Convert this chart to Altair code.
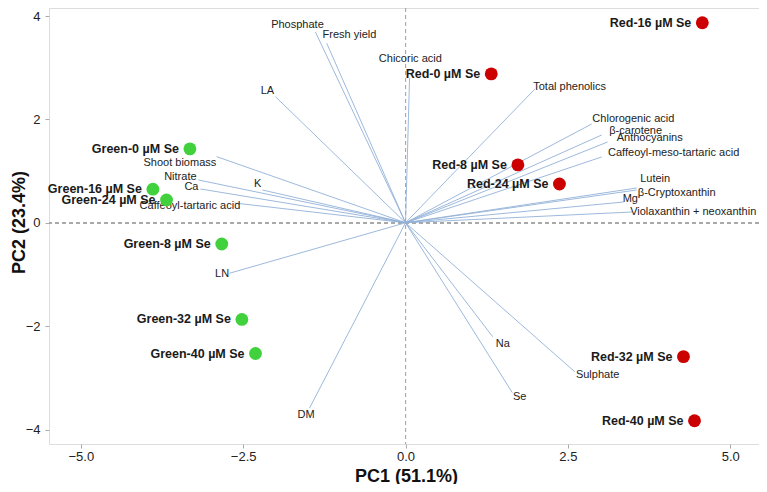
import altair as alt
import pandas as pd

# ---- Scores (observations) ----
obs_names = ["Green-0 µM Se", "Green-8 µM Se", "Green-16 µM Se", "Green-24 µM Se",
             "Green-32 µM Se", "Green-40 µM Se",
             "Red-0 µM Se", "Red-8 µM Se", "Red-16 µM Se", "Red-24 µM Se",
             "Red-32 µM Se", "Red-40 µM Se"]
obs_pc1 = [-3.32, -2.83, -3.89, -3.68, -2.52, -2.31,
           1.32, 1.73, 4.57, 2.37, 4.28, 4.45]
obs_pc2 = [1.43, -0.41, 0.65, 0.44, -1.87, -2.53,
           2.88, 1.12, 3.87, 0.75, -2.59, -3.83]
obs_group = ["Green"] * 6 + ["Red"] * 6

# ---- Loadings (variables) ----
var_names = ["Phosphate", "Fresh yield", "Chicoric acid", "LA", "Total phenolics",
             "Chlorogenic acid", "β-carotene", "Anthocyanins",
             "Caffeoyl-meso-tartaric acid", "Lutein", "β-Cryptoxanthin", "Mg",
             "Violaxanthin + neoxanthin", "Shoot biomass", "Nitrate", "Ca", "K",
             "Caffeoyl-tartaric acid", "LN", "DM", "Na", "Sulphate", "Se"]
var_pc1 = [-1.387, -1.213, 0.062, -2.003, 1.988,
           2.866, 3.020, 3.112,
           3.020, 3.559, 3.559, 3.359,
           3.498, -2.908, -3.190, -3.159, -2.203,
           -2.635, -2.712, -1.479, 1.341, 2.604, 1.644]
var_pc2 = [3.690, 3.472, 2.800, 2.439, 2.582,
           1.911, 1.698, 1.563,
           1.273, 0.673, 0.634, 0.402,
           0.209, 1.279, 0.828, 0.654, 0.634,
           0.383, -0.977, -3.588, -2.203, -2.880, -3.286]
# label anchor positions (data units)
lab_pc1 = [-1.664, -0.863, 0.074, -2.126, 2.527,
           3.508, 3.544, 3.760,
           4.129, 3.844, 4.176, 3.462,
           4.43, -3.475, -3.467, -3.297, -2.276,
           -3.320, -2.824, -1.530, 1.499, 2.958, 1.757]
lab_pc2 = [3.826, 3.632, 3.162, 2.555, 2.632,
           2.008, 1.781, 1.646,
           1.344, 0.847, 0.582, 0.455,
           0.215, 1.162, 0.892, 0.687, 0.750,
           0.331, -0.990, -3.718, -2.350, -2.944, -3.375]

x_ticks = [-5.0, -2.5, 0.0, 2.5, 5.0]
y_ticks = [-4, -2, 0, 2, 4]

obs = pd.DataFrame({"name": obs_names, "PC1": obs_pc1, "PC2": obs_pc2, "group": obs_group})
var = pd.DataFrame({"name": var_names, "PC1": var_pc1, "PC2": var_pc2,
                    "lx": lab_pc1, "ly": lab_pc2})

FONT = "Liberation Sans"
xdom = [-5.49, 5.443]
ydom = [-4.28, 4.155]

xs = alt.Scale(domain=xdom, nice=False, zero=False)
ys = alt.Scale(domain=ydom, nice=False, zero=False)

x_axis = alt.Axis(values=x_ticks, format=".1f", grid=False, domain=False,
                  tickSize=4, tickColor="#aaaaaa", labelPadding=2,
                  labelFontSize=13, labelColor="#222222", labelFont=FONT,
                  title="PC1 (51.1%)", titleFont=FONT, titleFontSize=18,
                  titleFontWeight="bold", titleColor="#111111",
                  titleX=357, titleY=32, titleBaseline="middle")
y_axis = alt.Axis(values=y_ticks, format="d", grid=False, domain=False,
                  tickSize=4, tickColor="#aaaaaa", labelPadding=5,
                  labelFontSize=13, labelColor="#222222", labelFont=FONT,
                  title="PC2 (23.4%)", titleFont=FONT, titleFontSize=18,
                  titleFontWeight="bold", titleColor="#111111",
                  titleX=-30, titleY=214, titleAngle=270,
                  titleBaseline="middle", titleAlign="center")

base_obs = alt.Chart(obs)
base_var = alt.Chart(var)

zero_v = alt.Chart(obs).mark_rule(color="#aaaaaa", strokeDash=[4, 3], strokeWidth=1).encode(
    x=alt.datum(0, scale=xs, axis=x_axis))
zero_h = alt.Chart(obs).mark_rule(color="#aaaaaa", strokeDash=[4, 3], strokeWidth=1).encode(
    y=alt.datum(0, scale=ys, axis=y_axis))

arrows = base_var.mark_rule(color="#92b1d8", strokeWidth=0.9).encode(
    x=alt.X("PC1:Q", scale=xs, axis=x_axis),
    y=alt.Y("PC2:Q", scale=ys, axis=y_axis),
    x2=alt.datum(0),
    y2=alt.datum(0),
)

var_labels = base_var.mark_text(font=FONT, fontSize=11, color="#222222",
                                align="center", baseline="middle").encode(
    x=alt.X("lx:Q", scale=xs, axis=x_axis),
    y=alt.Y("ly:Q", scale=ys, axis=y_axis),
    text="name:N",
)

points = base_obs.mark_circle(size=165, opacity=1).encode(
    x=alt.X("PC1:Q", scale=xs, axis=x_axis),
    y=alt.Y("PC2:Q", scale=ys, axis=y_axis),
    color=alt.Color("group:N", scale=alt.Scale(domain=["Green", "Red"],
                                               range=["#40d13c", "#cc0000"]),
                    legend=None),
)

obs_labels = base_obs.mark_text(font=FONT, fontSize=12.5, fontWeight="bold",
                                color="#1a1a1a", align="right", baseline="middle",
                                dx=-11).encode(
    x=alt.X("PC1:Q", scale=xs, axis=x_axis),
    y=alt.Y("PC2:Q", scale=ys, axis=y_axis),
    text="name:N",
)

chart = alt.layer(zero_v, zero_h, arrows, var_labels, points, obs_labels).properties(
    width=710, height=436,
    autosize=alt.AutoSizeParams(type="none"),
    padding={"left": 41, "top": 0, "right": 0, "bottom": 40},
).configure_view(stroke="#b8b8b8", strokeWidth=1.3).configure(background="white")

chart.save("out.html", embed_options={"renderer": "svg", "actions": False})
